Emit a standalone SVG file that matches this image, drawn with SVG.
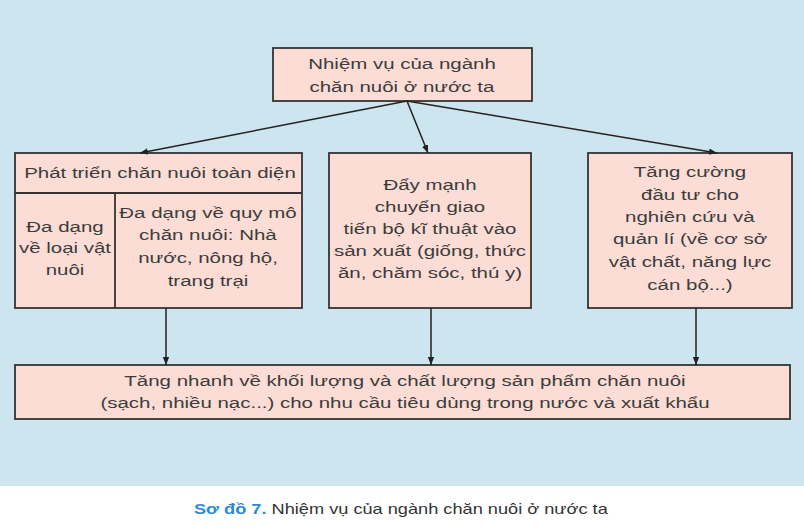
<svg xmlns="http://www.w3.org/2000/svg" width="804" height="530" viewBox="0 0 804 530">
<defs>
<marker id="ah" viewBox="0 0 10 10" refX="10" refY="5" markerWidth="8" markerHeight="8" markerUnits="userSpaceOnUse" orient="auto"><path d="M0,1 L10,5 L0,9 Z" fill="#222"/></marker>
<style>
.box{fill:#fbddd5;stroke:#333;stroke-width:1.8}
.div{stroke:#333;stroke-width:1.8}
.t{font-family:"Liberation Sans",Arial,sans-serif;font-size:15.5px;fill:#3c3c3c;text-anchor:middle;transform-box:fill-box;transform-origin:center;transform:scaleX(1.32)}
.cap{font-family:"Liberation Sans",Arial,sans-serif;font-size:14px;fill:#333;text-anchor:middle;transform-box:fill-box;transform-origin:center;transform:scaleX(1.3)}
.c{stroke:#222;stroke-width:1.5;fill:none;marker-end:url(#ah)}
</style>
</defs>
<rect x="0" y="0" width="804" height="486" fill="#cde5ef"/>
<rect x="0" y="486" width="804" height="44" fill="#ffffff"/>
<g id="top">
<rect class="box" x="273" y="48" width="259" height="53"/>
<text class="t" x="402" y="69">Nhiệm vụ của ngành</text>
<text class="t" x="402" y="92">chăn nuôi ở nước ta</text>
</g>
<g id="left">
<rect class="box" x="15" y="153" width="287" height="155"/>
<line class="div" x1="15" y1="193" x2="302" y2="193"/>
<line class="div" x1="115" y1="193" x2="115" y2="308"/>
<text class="t" x="160" y="178">Phát triển chăn nuôi toàn diện</text>
<text class="t" x="65" y="232">Đa dạng</text>
<text class="t" x="65" y="253">về loại vật</text>
<text class="t" x="65" y="275">nuôi</text>
<text class="t" x="208" y="218">Đa dạng về quy mô</text>
<text class="t" x="208" y="240">chăn nuôi: Nhà</text>
<text class="t" x="208" y="263">nước, nông hộ,</text>
<text class="t" x="208" y="286">trang trại</text>
</g>
<g id="mid">
<rect class="box" x="329" y="153" width="202" height="155"/>
<text class="t" x="430" y="190">Đẩy mạnh</text>
<text class="t" x="430" y="212">chuyển giao</text>
<text class="t" x="430" y="234">tiến bộ kĩ thuật vào</text>
<text class="t" x="430" y="256">sản xuất (giống, thức</text>
<text class="t" x="430" y="278">ăn, chăm sóc, thú y)</text>
</g>
<g id="right">
<rect class="box" x="588" y="153" width="204" height="155"/>
<text class="t" x="690" y="177">Tăng cường</text>
<text class="t" x="690" y="200">đầu tư cho</text>
<text class="t" x="690" y="222">nghiên cứu và</text>
<text class="t" x="690" y="244">quản lí (về cơ sở</text>
<text class="t" x="690" y="267">vật chất, năng lực</text>
<text class="t" x="690" y="290">cán bộ...)</text>
</g>
<g id="bottom">
<rect class="box" x="15" y="365" width="775" height="54"/>
<text class="t" x="405" y="386">Tăng nhanh về khối lượng và chất lượng sản phẩm chăn nuôi</text>
<text class="t" x="405" y="408">(sạch, nhiều nạc...) cho nhu cầu tiêu dùng trong nước và xuất khẩu</text>
</g>
<g id="connectors">
<line class="c" x1="407" y1="101" x2="140" y2="153"/>
<line class="c" x1="407" y1="101" x2="428" y2="153"/>
<line class="c" x1="407" y1="101" x2="717" y2="153"/>
<line class="c" x1="166" y1="308" x2="166" y2="365"/>
<line class="c" x1="431" y1="308" x2="431" y2="365"/>
<line class="c" x1="696" y1="308" x2="696" y2="365"/>
</g>
<text class="cap" x="401" y="514"><tspan fill="#2b8ad8" font-weight="bold">Sơ đồ 7.</tspan> Nhiệm vụ của ngành chăn nuôi ở nước ta</text>
</svg>
